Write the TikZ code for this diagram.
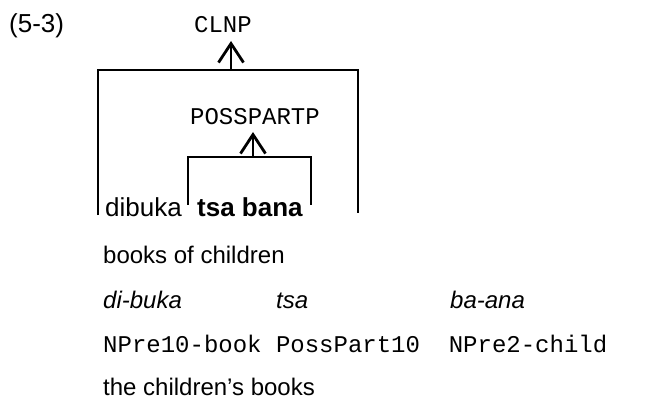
\documentclass[tikz,border=0pt]{standalone}
\usepackage{fontspec}
\setmainfont{Liberation Sans}
\setmonofont{Liberation Mono}
\usetikzlibrary{arrows.meta}
\begin{document}
\begin{tikzpicture}[x=1pt,y=-1pt,
  txt/.style={anchor=base west,inner sep=0pt,font=\fontsize{24}{28}\selectfont},
  big/.style={anchor=base west,inner sep=0pt,font=\fontsize{26}{30}\selectfont},
  mono/.style={anchor=base west,inner sep=0pt,font=\fontsize{24}{28}\selectfont\ttfamily},
  bracket/.style={line width=2.8pt,line join=miter},
  up/.style={line width=2.8pt,-{Straight Barb[length=19pt,width=25pt,line width=2.8pt]}}]
\useasboundingbox (0,0) rectangle (668,403);
\node[big] (ex) at (9,33) {(5-3)};
\node[mono,anchor=base] (clnp) at (223,33) {CLNP};
\node[mono,anchor=base] (poss) at (255,125) {POSSPARTP};
% outer bracket
\coordinate (o1) at (98,215);
\coordinate (o2) at (98,70);
\coordinate (o3) at (358,70);
\coordinate (o4) at (358,213);
\coordinate (om) at (231,70);
\coordinate (ot) at (231,41);
\draw[bracket] (o1) -- (o2) -- (o3) -- (o4);
\draw[up] (om) -- (ot);
% inner bracket
\coordinate (i1) at (188,205);
\coordinate (i2) at (188,157);
\coordinate (i3) at (311,157);
\coordinate (i4) at (311,205);
\coordinate (im) at (253,157);
\coordinate (it) at (253,132);
\draw[bracket] (i1) -- (i2) -- (i3) -- (i4);
\draw[up] (im) -- (it);
% words
\node[big] (w1) at (105,216) {dibuka};
\node[big] (w2) at (197,216) {\bfseries tsa bana};
\node[txt] (gloss1) at (103,263) {books of children};
\node[txt] (m1) at (103,308) {\itshape di-buka};
\node[txt] (m2) at (276,308) {\itshape tsa};
\node[txt] (m3) at (450,308) {\itshape ba-ana};
\node[mono] (g) at (103,352) {NPre10-book PossPart10\ \ NPre2-child};
\node[txt] (gloss2) at (103,395) {the children’s books};
\end{tikzpicture}
\end{document}
